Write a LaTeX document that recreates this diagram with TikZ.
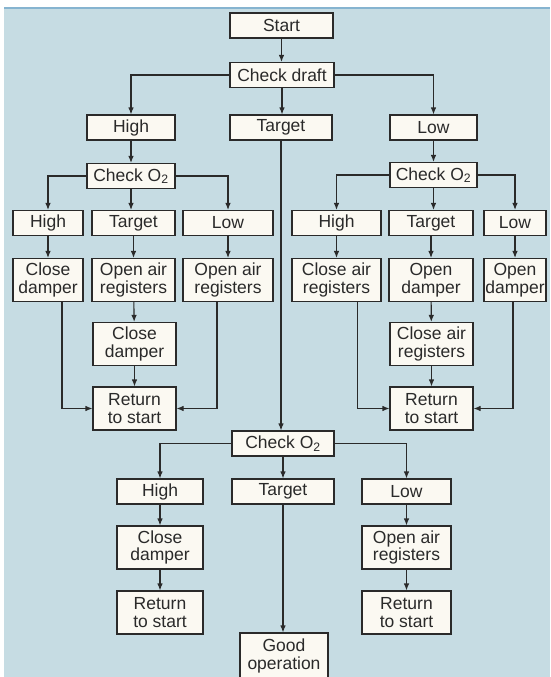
\documentclass[tikz,border=0pt]{standalone}
\usepackage{fontspec}
\setmainfont{Liberation Sans}
\usepackage{tikz}
\usetikzlibrary{arrows}
\usetikzlibrary{arrows.meta}

\begin{document}
\begin{tikzpicture}[x=1pt,y=-1pt]
    \definecolor{my_paper}{HTML}{C6DCE3}
    \definecolor{my_box}{HTML}{FBF9F2}
    \definecolor{my_ink}{HTML}{2A2A2A}
    \definecolor{my_rule}{HTML}{86B4D0}
    \tikzstyle{every node}=[draw = my_ink, line width = 1.1pt, fill = my_box,
                            text = my_ink, align = center, inner sep = 0pt,
                            font = \fontsize{17.5}{17.5}\selectfont]
    \tikzstyle{one_line}=[minimum height = 25pt]
    \tikzstyle{two_line}=[minimum height = 43pt]
    \tikzstyle{flow}=[draw = my_ink, line width = 1.1pt, -{Latex[length=7pt, width=5.5pt]}]
    \useasboundingbox (0,0) rectangle (550,677);
    \clip (0,0) rectangle (550,677);
    % page behind the chart
    \fill[white] (0,0) rectangle (550,677);
    \fill[my_paper] (4,8) rectangle (550,677);
    \fill[my_rule] (4,7) rectangle (550,9);

    % top of the chart
    \node[one_line, minimum width = 103pt] (start) at (281.5,25.5) {Start};
    \node[one_line, minimum width = 104pt] (check_draft) at (282,75) {Check draft};
    \node[one_line, minimum width = 88pt] (draft_high) at (131,127.5) {High};
    \node[one_line, minimum width = 102pt] (draft_target) at (281,127.5) {Target};
    \node[one_line, minimum width = 87pt] (draft_low) at (433.5,127.5) {Low};

    % draft too high
    \node[one_line, minimum width = 88pt] (check_left) at (131,176) {Check O\textsubscript{2}};
    \node[one_line, minimum width = 70pt] (left_high) at (48,223) {High};
    \node[one_line, minimum width = 83pt] (left_target) at (133.5,223) {Target};
    \node[one_line, minimum width = 90pt] (left_low) at (228,223) {Low};
    \node[two_line, minimum width = 70pt] (left_high_do) at (48,280) {Close\\damper};
    \node[two_line, minimum width = 83pt] (left_target_do) at (133.5,280) {Open air\\registers};
    \node[two_line, minimum width = 90pt] (left_low_do) at (228,280) {Open air\\registers};
    \node[two_line, minimum width = 83pt] (left_target_then) at (134.5,344) {Close\\damper};
    \node[two_line, minimum width = 83pt] (left_return) at (134.5,408.5) {Return\\to start};

    % draft too low
    \node[one_line, minimum width = 87pt] (check_right) at (433.5,175) {Check O\textsubscript{2}};
    \node[one_line, minimum width = 89pt] (right_high) at (336.5,223) {High};
    \node[one_line, minimum width = 84pt] (right_target) at (431,223) {Target};
    \node[one_line, minimum width = 62pt] (right_low) at (515,223) {Low};
    \node[two_line, minimum width = 89pt] (right_high_do) at (336.5,280) {Close air\\registers};
    \node[two_line, minimum width = 84pt] (right_target_do) at (431,280) {Open\\damper};
    \node[two_line, minimum width = 62pt] (right_low_do) at (515,280) {Open\\damper};
    \node[two_line, minimum width = 83pt] (right_target_then) at (431.5,344) {Close air\\registers};
    \node[two_line, minimum width = 83pt] (right_return) at (431.5,408.5) {Return\\to start};

    % draft on target
    \node[one_line, minimum width = 102pt] (check_mid) at (283,443.5) {Check O\textsubscript{2}};
    \node[one_line, minimum width = 86pt] (mid_high) at (160,491.5) {High};
    \node[one_line, minimum width = 102pt] (mid_target) at (283,491.5) {Target};
    \node[one_line, minimum width = 89pt] (mid_low) at (406.5,491.5) {Low};
    \node[two_line, minimum width = 86pt] (mid_high_do) at (160,547.5) {Close\\damper};
    \node[two_line, minimum width = 89pt] (mid_low_do) at (406.5,547.5) {Open air\\registers};
    \node[two_line, minimum width = 86pt] (mid_high_return) at (160,612.5) {Return\\to start};
    \node[two_line, minimum width = 89pt] (mid_low_return) at (406.5,612.5) {Return\\to start};
    \node[minimum width = 88pt, minimum height = 46pt] (good) at (284,656) {Good\\operation};

    % connectors
    \draw[flow] (start.south) -- (start.south |- check_draft.north);
    \draw[flow] (check_draft.west) -| (draft_high.north);
    \draw[flow] (check_draft.south) -- (check_draft.south |- draft_target.north);
    \draw[flow] (check_draft.east) -| (draft_low.north);

    \draw[flow] (draft_high) -- (check_left);
    \draw[flow] (check_left.west) -| (left_high.north);
    \draw[flow] (check_left.south) -- (check_left.south |- left_target.north);
    \draw[flow] (check_left.east) -| (left_low.north);
    \draw[flow] (left_high) -- (left_high_do);
    \draw[flow] (left_target) -- (left_target_do);
    \draw[flow] (left_low) -- (left_low_do);
    \draw[flow] (left_target_do) -- (left_target_then);
    \draw[flow] (left_target_then) -- (left_return);
    \draw[flow] ([xshift = 14pt]left_high_do.south) |- (left_return.west);
    \draw[flow] ([xshift = -11pt]left_low_do.south) |- (left_return.east);

    \draw[flow] (draft_low) -- (check_right);
    \draw[flow] (check_right.west) -| (right_high.north);
    \draw[flow] (check_right.south) -- (check_right.south |- right_target.north);
    \draw[flow] (check_right.east) -| (right_low.north);
    \draw[flow] (right_high) -- (right_high_do);
    \draw[flow] (right_target) -- (right_target_do);
    \draw[flow] (right_low) -- (right_low_do);
    \draw[flow] (right_target_do) -- (right_target_then);
    \draw[flow] (right_target_then) -- (right_return);
    \draw[flow] ([xshift = 21pt]right_high_do.south) |- (right_return.west);
    \draw[flow] ([xshift = -2pt]right_low_do.south) |- (right_return.east);

    \draw[flow] (draft_target.south) -- (draft_target.south |- check_mid.north);
    \draw[flow] (check_mid.west) -| (mid_high.north);
    \draw[flow] (check_mid.south) -- (check_mid.south |- mid_target.north);
    \draw[flow] (check_mid.east) -| (mid_low.north);
    \draw[flow] (mid_high) -- (mid_high_do);
    \draw[flow] (mid_high_do) -- (mid_high_return);
    \draw[flow] (mid_low) -- (mid_low_do);
    \draw[flow] (mid_low_do) -- (mid_low_return);
    \draw[flow] (mid_target.south) -- (mid_target.south |- good.north);
\end{tikzpicture}
\end{document}
